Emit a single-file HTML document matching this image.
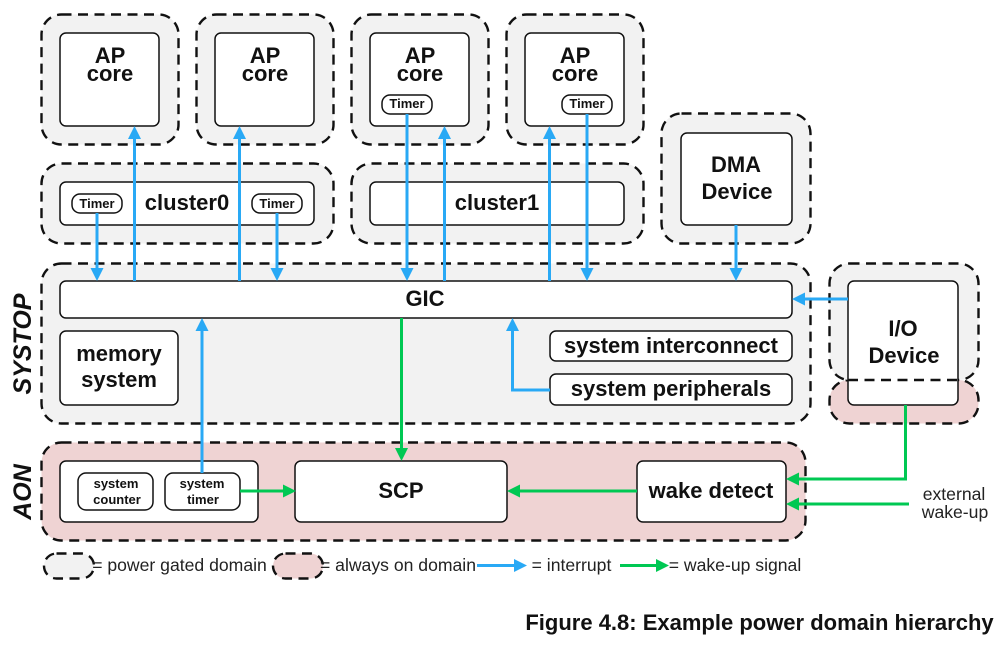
<!DOCTYPE html>
<html>
<head>
<meta charset="utf-8">
<style>
html,body{margin:0;padding:0;background:#fff}
svg{display:block}
text{font-family:"Liberation Sans",sans-serif;fill:#111;text-anchor:middle}
.b{font-weight:bold}
.t{fill:#222}
.g{fill:#f2f2f2;stroke:#111;stroke-width:2.4;stroke-dasharray:10 6.5}
.p{fill:#efd3d3;stroke:#111;stroke-width:2.4;stroke-dasharray:10 6.5}
.w{fill:#fff;stroke:#111;stroke-width:1.5}
.bl{stroke:#29a9f5;stroke-width:3;fill:none}
.gr{stroke:#00c853;stroke-width:3;fill:none}
.bh{fill:#29a9f5}
.gh{fill:#00c853}
</style>
</head>
<body>
<svg width="1001" height="647" viewBox="0 0 1001 647" xmlns="http://www.w3.org/2000/svg">
<rect width="1001" height="647" fill="#fff"/>
<!-- domains -->
<rect class="g" x="41.5" y="14.5" width="137" height="130" rx="20"/>
<rect class="g" x="196.5" y="14.5" width="137" height="130" rx="20"/>
<rect class="g" x="351.5" y="14.5" width="137" height="130" rx="20"/>
<rect class="g" x="506.5" y="14.5" width="137" height="130" rx="20"/>
<rect class="g" x="41.5" y="163.5" width="292" height="80" rx="20"/>
<rect class="g" x="351.5" y="163.5" width="292" height="80" rx="20"/>
<rect class="g" x="661.5" y="113.5" width="149" height="130" rx="20"/>
<rect class="g" x="41.5" y="263.5" width="769" height="160" rx="20"/>
<rect class="p" x="829.5" y="380" width="149" height="43.5" rx="20"/>
<rect class="g" x="829.5" y="263.5" width="149" height="116.5" rx="20"/>
<rect class="p" x="41.5" y="442.5" width="764" height="98" rx="20"/>
<!-- boxes -->
<rect class="w" x="60" y="33" width="99" height="93" rx="6"/>
<rect class="w" x="215" y="33" width="99" height="93" rx="6"/>
<rect class="w" x="370" y="33" width="99" height="93" rx="6"/>
<rect class="w" x="525" y="33" width="99" height="93" rx="6"/>
<rect class="w" x="60" y="182" width="254" height="43" rx="6"/>
<rect class="w" x="370" y="182" width="254" height="43" rx="6"/>
<rect class="w" x="681" y="133" width="111" height="92" rx="6"/>
<rect class="w" x="60" y="281" width="732" height="37" rx="6"/>
<rect class="w" x="60" y="331" width="118" height="74" rx="6"/>
<rect class="w" x="550" y="331" width="242" height="30" rx="6"/>
<rect class="w" x="550" y="374" width="242" height="31" rx="6"/>
<rect class="w" x="848" y="281" width="110" height="124" rx="6"/>
<path d="M848 380H958" stroke="#111" stroke-width="2.4" stroke-dasharray="10 6.5" fill="none"/>
<rect class="w" x="60" y="461" width="198" height="61" rx="6"/>
<rect class="w" x="78" y="473" width="75" height="37" rx="8"/>
<rect class="w" x="165" y="473" width="75" height="37" rx="8"/>
<rect class="w" x="295" y="461" width="212" height="61" rx="6"/>
<rect class="w" x="637" y="461" width="149" height="61" rx="6"/>
<rect class="w" x="72" y="194" width="50" height="19" rx="8"/>
<rect class="w" x="252" y="194" width="50" height="19" rx="8"/>
<rect class="w" x="382" y="95" width="50" height="19" rx="8"/>
<rect class="w" x="562" y="95" width="50" height="19" rx="8"/>
<!-- blue arrows -->
<path class="bl" d="M134.500 281V136M239.500 281V136M444.500 281V136M549.500 281V136M97 213V270M277 213V270M407 114V270M587 114V270M736 225V270M202 473V330M512.500 330V390H550M848 299H803"/>
<path class="bh" d="M134.500 126l6.500 13h-13zM239.500 126l6.500 13h-13zM444.500 126l6.500 13h-13zM549.500 126l6.500 13h-13zM97 281l-6.500-13h13zM277 281l-6.500-13h13zM407 281l-6.500-13h13zM587 281l-6.500-13h13zM736 281l-6.500-13h13zM202 318l6.500 13h-13zM512.500 318l6.500 13h-13zM792 299l13-6.500v13z"/>
<!-- green arrows -->
<path class="gr" d="M401.500 318V450M240 491H284M637 491H518M905.500 405V479H798M909 504H798"/>
<path class="gh" d="M401.500 461l-6.500-13h13zM296 491l-13-6.500v13zM507 491l13-6.500v13zM786 479l13-6.500v13zM786 504l13-6.500v13z"/>
<!-- labels -->
<g font-size="22">
<text class="b" x="110" y="63">AP</text><text class="b" x="110" y="81">core</text>
<text class="b" x="265" y="63">AP</text><text class="b" x="265" y="81">core</text>
<text class="b" x="420" y="63">AP</text><text class="b" x="420" y="81">core</text>
<text class="b" x="575" y="63">AP</text><text class="b" x="575" y="81">core</text>
<text class="b" x="187" y="210">cluster0</text>
<text class="b" x="497" y="210">cluster1</text>
<text class="b" x="736" y="172">DMA</text>
<text class="b" x="737" y="199">Device</text>
<text class="b" x="425" y="306">GIC</text>
<text class="b" x="119" y="361">memory</text>
<text class="b" x="119" y="387">system</text>
<text class="b" x="671" y="353">system interconnect</text>
<text class="b" x="671" y="396">system peripherals</text>
<text class="b" x="903" y="336">I/O</text>
<text class="b" x="904" y="363">Device</text>
<text class="b" x="401" y="498">SCP</text>
<text class="b" x="711" y="498">wake detect</text>
</g>
<g font-size="13">
<text class="b" x="97" y="208">Timer</text>
<text class="b" x="277" y="208">Timer</text>
<text class="b" x="407" y="108">Timer</text>
<text class="b" x="587" y="108">Timer</text>
<text class="b" x="116" y="488">system</text>
<text class="b" x="117" y="504">counter</text>
<text class="b" x="202" y="488">system</text>
<text class="b" x="203" y="504">timer</text>
</g>
<text class="b" font-size="25" font-style="italic" transform="translate(31 344) rotate(-90)">SYSTOP</text>
<text class="b" font-size="25" font-style="italic" transform="translate(31 492) rotate(-90)">AON</text>
<text class="t" font-size="17.6" x="954" y="500">external</text>
<text class="t" font-size="17.6" x="955" y="518">wake-up</text>
<!-- legend -->
<rect class="g" x="44" y="553.500" width="50" height="25" rx="12.500"/>
<rect class="p" x="273" y="553.500" width="50" height="25" rx="12.500"/>
<text class="t" font-size="17.6" x="179.500" y="571">= power gated domain</text>
<text class="t" font-size="17.6" x="398" y="571">= always on domain</text>
<path class="bl" d="M477 565.500H516"/>
<path class="bh" d="M527 565.500l-13-6.500v13z"/>
<text class="t" font-size="17.6" x="571.500" y="571">= interrupt</text>
<path class="gr" d="M620 565.500H658"/>
<path class="gh" d="M669 565.500l-13-6.500v13z"/>
<text class="t" font-size="17.6" x="735" y="571">= wake-up signal</text>
<text class="b" font-size="22" x="759.500" y="630">Figure 4.8: Example power domain hierarchy</text>
</svg>
</body>
</html>
